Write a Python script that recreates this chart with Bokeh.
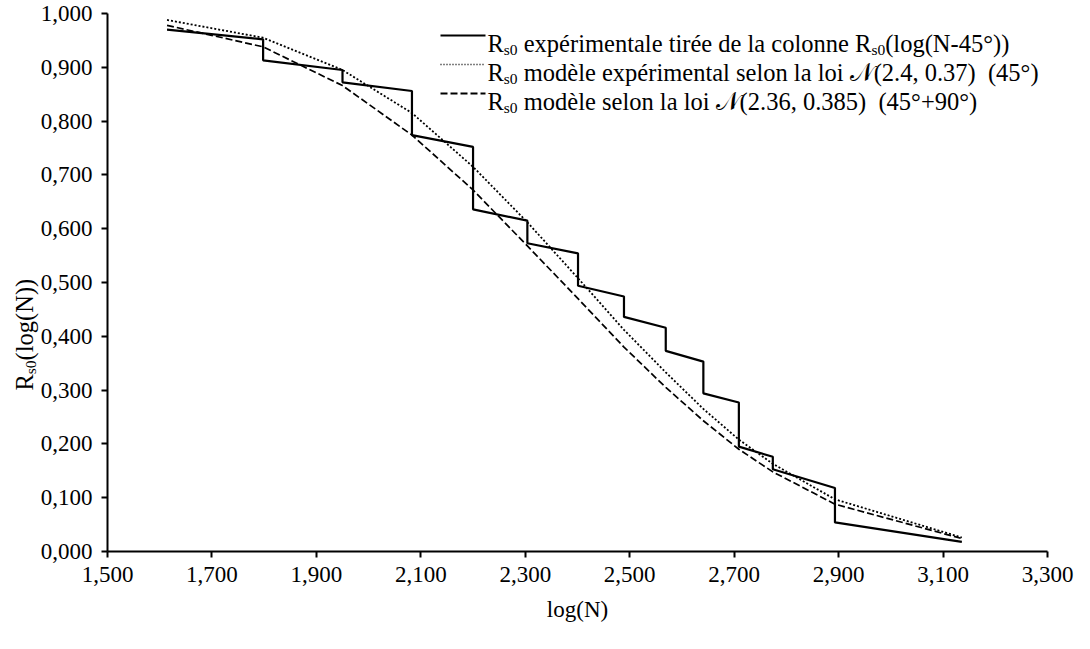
import math
from bokeh.plotting import figure
from bokeh.models import Label, FixedTicker, Range1d, LinearAxis
from bokeh.embed import file_html
from bokeh.resources import INLINE

# ---------------- data ----------------
solid_x = [1.614, 1.798, 1.798, 1.950, 1.950, 2.083, 2.083, 2.200, 2.200, 2.304, 2.304,
           2.401, 2.401, 2.489, 2.489, 2.569, 2.569, 2.641, 2.641, 2.709, 2.709,
           2.774, 2.774, 2.893, 2.893, 3.136]
solid_y = [0.970, 0.952, 0.913, 0.895, 0.872, 0.856, 0.774, 0.752, 0.636, 0.615, 0.573,
           0.554, 0.494, 0.474, 0.436, 0.416, 0.373, 0.353, 0.294, 0.277, 0.195,
           0.176, 0.153, 0.118, 0.054, 0.018]
model_x = [1.614, 1.798, 1.950, 2.083, 2.200, 2.304, 2.401, 2.489, 2.569, 2.641, 2.709,
           2.774, 2.893, 3.136]
dotted_y = [0.988, 0.955, 0.895, 0.815, 0.715, 0.612, 0.508, 0.412, 0.333, 0.265, 0.208,
            0.163, 0.097, 0.026]
dashed_y = [0.978, 0.938, 0.866, 0.774, 0.672, 0.568, 0.470, 0.380, 0.305, 0.243, 0.190,
            0.148, 0.088, 0.024]
x_ticks = [1.5, 1.7, 1.9, 2.1, 2.3, 2.5, 2.7, 2.9, 3.1, 3.3]
x_tick_labels = ["1,500", "1,700", "1,900", "2,100", "2,300", "2,500", "2,700", "2,900", "3,100", "3,300"]
y_ticks = [0.0, 0.1, 0.2, 0.3, 0.4, 0.5, 0.6, 0.7, 0.8, 0.9, 1.0]
y_tick_labels = ["0,000", "0,100", "0,200", "0,300", "0,400", "0,500", "0,600", "0,700", "0,800", "0,900", "1,000"]
legend_rows = [
    [("R", False), ("s0", True), (" expérimentale tirée de la colonne R", False), ("s0", True), ("(log(N-45°))", False)],
    [("R", False), ("s0", True), (" modèle expérimental selon la loi 𝒩(2.4, 0.37)  (45°)", False)],
    [("R", False), ("s0", True), (" modèle selon la loi 𝒩(2.36, 0.385)  (45°+90°)", False)],
]
y_label = [("R", False), ("s0", True), ("(log(N))", False)]
x_label = "log(N)"

# ---------------- layout (page pixels) ----------------
W, H = 1074, 633
FONT = "Liberation Serif"
XA, XB = 1.5, 3.3          # axis extent (data)
YA, YB = 0.0, 1.0
L_PX, R_PX = 107, 1047     # canvas x of 1.5 and 3.3
T_PX, B_PX = 13, 551       # canvas y of 1.0 and 0.0
PX_X = (R_PX - L_PX) / (XB - XA)
PX_Y = (B_PX - T_PX) / (YB - YA)
x_lo = XA - L_PX / PX_X
x_hi = XB + (W - R_PX) / PX_X
y_hi = YB + T_PX / PX_Y
y_lo = YA - (H - B_PX) / PX_Y


def cx(page_x):
    return x_lo + (page_x - 8) / PX_X


def cy(page_y):
    return y_hi - (page_y - 8) / PX_Y


p = figure(width=W, height=H, x_range=Range1d(x_lo, x_hi), y_range=Range1d(y_lo, y_hi),
           output_backend="svg", toolbar_location=None,
           x_axis_location=None, y_axis_location=None,
           min_border_left=0, min_border_right=0, min_border_top=0, min_border_bottom=0)
p.outline_line_color = None
p.grid.visible = False
p.background_fill_color = "white"
p.border_fill_color = "white"

xaxis = LinearAxis(fixed_location=YA, bounds=(XA, XB), ticker=FixedTicker(ticks=x_ticks))
yaxis = LinearAxis(fixed_location=XA, bounds=(YA, YB), ticker=FixedTicker(ticks=y_ticks))
xaxis.major_label_overrides = {t: l for t, l in zip(x_ticks, x_tick_labels)}
yaxis.major_label_overrides = {t: l for t, l in zip(y_ticks, y_tick_labels)}
for ax in (xaxis, yaxis):
    ax.axis_line_color = "black"
    ax.axis_line_width = 2
    ax.major_tick_line_color = "black"
    ax.major_tick_line_width = 2
    ax.major_tick_out = 6
    ax.major_tick_in = 0
    ax.minor_tick_line_color = None
    ax.major_label_text_font = FONT
    ax.major_label_text_font_size = "23px"
    ax.major_label_text_color = "black"
    ax.major_label_standoff = 9
p.add_layout(xaxis, "below")
p.add_layout(yaxis, "left")

# ---------------- series ----------------
p.line(solid_x, solid_y, line_color="black", line_width=2.2)
p.line(model_x, dotted_y, line_color="black", line_width=1.8, line_dash="2 2")
p.line(model_x, dashed_y, line_color="black", line_width=1.7, line_dash="7 3")

# ---------------- text helpers ----------------
CW = {" ": .25, "\u00a0": .25, "(": .333, ")": .333, ",": .25, "-": .333, ".": .25, "°": .4, "+": .564,
      "N": .722, "R": .667, "𝒩": .8,
      "a": .444, "b": .5, "c": .444, "d": .5, "e": .444, "f": .333, "g": .5, "h": .5, "i": .278,
      "l": .278, "m": .778, "n": .5, "o": .5, "p": .5, "r": .333, "s": .389, "t": .278,
      "u": .5, "x": .5, "é": .444, "è": .444}


def tw(s, size):
    return sum(CW.get(c, .5) for c in s) * size


def place(segments, x0, y0, F, S, drop, angle=0.0):
    pos = 0.0
    for txt, sub in segments:
        size = S if sub else F
        lead = len(txt) - len(txt.lstrip(" "))
        pos += tw(txt[:lead], size)
        body = txt[lead:].replace("  ", " \u00a0")
        if angle == 0:
            x = x0 + pos / PX_X
            y = y0 - (drop / PX_Y if sub else 0)
        else:
            x = x0 + (drop / PX_X if sub else 0)
            y = y0 + pos / PX_Y
        p.add_layout(Label(x=x, y=y, text=body, text_font=FONT, text_font_size=f"{size}px",
                           text_baseline="alphabetic", text_align="left", angle=angle,
                           text_color="black"))
        pos += tw(body, size)


# legend
LF, LS = 24.5, 15.5
row_base_px = [51, 80, 109]
styles = [dict(line_width=2.2), dict(line_width=1.4, line_dash="1 2"), dict(line_width=1.8, line_dash="7 3")]
for segs, bpx, st in zip(legend_rows, row_base_px, styles):
    p.line([cx(448), cx(493)], [cy(bpx - 8)] * 2, line_color="black", **st)
    place(segs, cx(495), cy(bpx), LF, LS, 6)

# y axis label (rotated)
place(y_label, cx(32), cy(398), 24.5, 15.5, 6, angle=math.pi / 2)

# x axis label
p.add_layout(Label(x=cx(585), y=cy(617), text=x_label, text_font=FONT, text_font_size="23px",
                   text_baseline="alphabetic", text_align="center", text_color="black"))

open("out.html", "w").write(file_html(p, INLINE))
